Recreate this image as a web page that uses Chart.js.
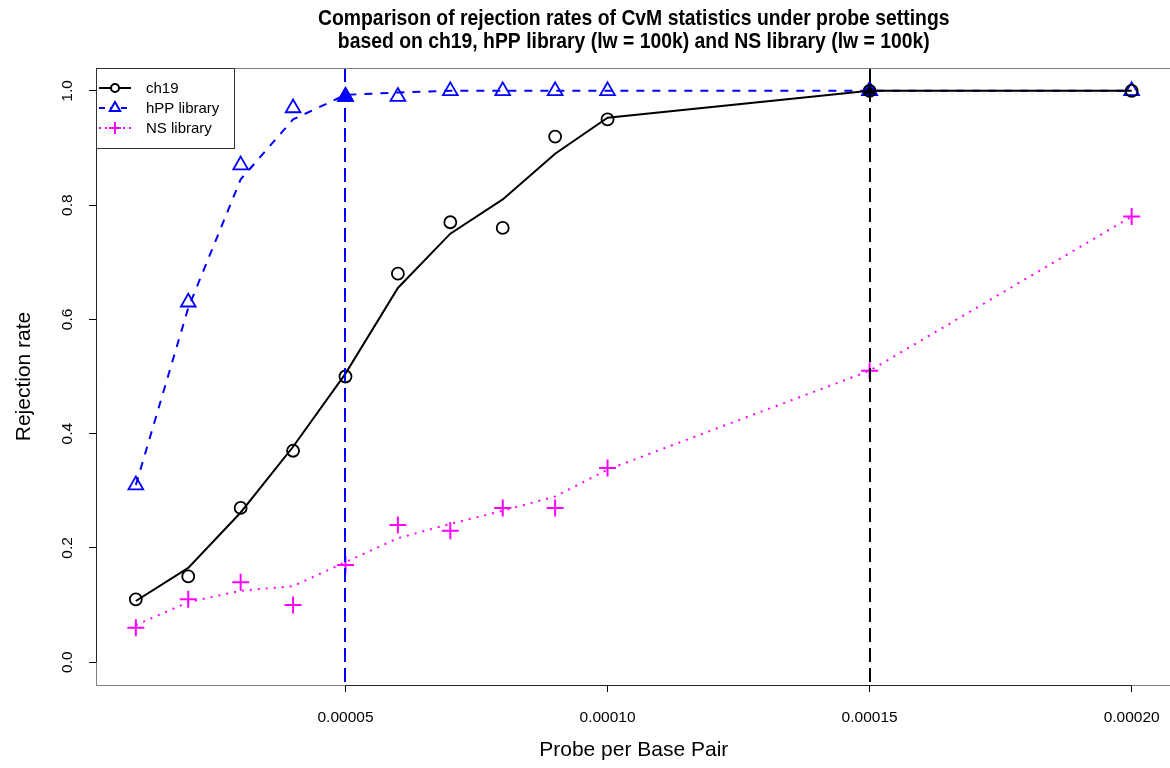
<!DOCTYPE html>
<html>
<head>
<meta charset="utf-8">
<title>CvM rejection rates</title>
<script src="https://cdn.jsdelivr.net/npm/chart.js@4.4.1/dist/chart.umd.min.js"></script>
<style>
  html, body { margin: 0; padding: 0; background: #fff; overflow: hidden; }
  canvas { display: block; }
</style>
</head>
<body>
<!-- wider than the window: the plot box runs just past the right edge -->
<canvas id="rejChart" width="1182" height="768"></canvas>
<script>
// probe density (probes per base pair)
const probeRate = [0.00001, 0.00002, 0.00003, 0.00004, 0.00005, 0.00006,
                   0.00007, 0.00008, 0.00009, 0.0001, 0.00015, 0.0002];

// observed rejection rates
const ch19Rate = [0.11, 0.15, 0.27, 0.37, 0.50, 0.68, 0.77, 0.76, 0.92, 0.95, 1.00, 1.00];
const hppRate  = [0.31, 0.63, 0.87, 0.97, 0.99, 0.99, 1.00, 1.00, 1.00, 1.00, 1.00, 1.00];
const nsRate   = [0.06, 0.11, 0.14, 0.10, 0.17, 0.24, 0.23, 0.27, 0.27, 0.34, 0.51, 0.78];

// smoothed curves
const ch19Fit = [0.107, 0.165, 0.262, 0.377, 0.505, 0.655, 0.75, 0.81, 0.89, 0.953, 1.00, 1.00];
const hppFit  = [0.31, 0.62, 0.845, 0.95, 0.993, 0.997, 1.00, 1.00, 1.00, 1.00, 1.00, 1.00];
const nsFit   = [0.065, 0.105, 0.125, 0.133, 0.175, 0.217, 0.242, 0.265, 0.29, 0.337, 0.51, 0.78];

// marked probe densities (vertical reference lines)
const cutoffs = [0.00005, 0.00015];

const xTicks = [0.00005, 0.0001, 0.00015, 0.0002];
const yTicks = [0, 0.2, 0.4, 0.6, 0.8, 1.0];
const seriesNames = ["ch19", "hPP library", "NS library"];
const mainTitle = ["Comparison of rejection rates of CvM statistics under probe settings",
                   "based on ch19, hPP library (lw = 100k) and NS library (lw = 100k)"];

const BLUE = "#0000ff", MAGENTA = "#ff00ff", BLACK = "#000000";
const cutoffColors = [BLUE, BLACK];

const pts = ys => probeRate.map((x, i) => ({ x: x, y: ys[i] }));

// R-style ranges: data range padded by 4%
const xSpan = probeRate[probeRate.length - 1] - probeRate[0];
const xMin = probeRate[0] - 0.04 * xSpan;
const xMax = probeRate[probeRate.length - 1] + 0.04 * xSpan;

const legendRows = [
    { color: BLACK, dash: [], style: "circle", r: 4 },
    { color: BLUE, dash: [6, 5], style: "triangle", r: 6 },
    { color: MAGENTA, dash: [2, 4], style: "cross", r: 6 }
];

// box, axis lines, reference lines, legend and the condensed bold title
const framePlugin = {
    id: "frame",
    afterDatasetsDraw(chart) {
        const ctx = chart.ctx;
        const a = chart.chartArea;
        const xs = chart.scales.x, ys = chart.scales.y;
        ctx.save();

        cutoffs.forEach((c, i) => {
            const px = Math.round(xs.getPixelForValue(c));
            ctx.strokeStyle = cutoffColors[i];
            ctx.lineWidth = 2;
            ctx.setLineDash([14, 6]);
            ctx.beginPath();
            ctx.moveTo(px, a.top);
            ctx.lineTo(px, a.bottom);
            ctx.stroke();
        });
        ctx.setLineDash([]);

        ctx.strokeStyle = "#808080";
        ctx.lineWidth = 1;
        ctx.strokeRect(a.left + 0.5, a.top + 0.5, a.right - a.left, a.bottom - a.top);

        ctx.strokeStyle = "#222";
        ctx.beginPath();
        ctx.moveTo(a.left + 0.5, ys.getPixelForValue(yTicks[0]));
        ctx.lineTo(a.left + 0.5, ys.getPixelForValue(yTicks[yTicks.length - 1]));
        ctx.moveTo(xs.getPixelForValue(xTicks[0]), a.bottom + 0.5);
        ctx.lineTo(xs.getPixelForValue(xTicks[xTicks.length - 1]), a.bottom + 0.5);
        ctx.stroke();

        // legend
        const lx = a.left, ly = a.top;
        ctx.fillStyle = "#fff";
        ctx.fillRect(lx + 1, ly + 1, 137, 79);
        ctx.strokeStyle = "#333";
        ctx.strokeRect(lx + 0.5, ly + 0.5, 138, 80);
        ctx.font = "15px Arial, 'Liberation Sans', sans-serif";
        ctx.textBaseline = "middle";
        legendRows.forEach((row, i) => {
            const y = ly + 20 * (i + 1);
            ctx.strokeStyle = row.color;
            ctx.lineWidth = 2;
            ctx.setLineDash(row.dash);
            ctx.beginPath();
            ctx.moveTo(lx + 3, y);
            ctx.lineTo(lx + 35, y);
            ctx.stroke();
            ctx.setLineDash([]);
            ctx.fillStyle = "#fff";
            Chart.helpers.drawPoint(ctx, { pointStyle: row.style, radius: row.r, borderWidth: 1.6, rotation: 0 }, lx + 19, y);
            ctx.fillStyle = BLACK;
            ctx.fillText(seriesNames[i], lx + 50, y + 1);
        });

        // title, squeezed horizontally like a narrow bold face
        const cx = (a.left + a.right) / 2;
        ctx.font = "bold 22px Arial, 'Liberation Sans', sans-serif";
        ctx.textAlign = "center";
        mainTitle.forEach((line, i) => {
            ctx.save();
            ctx.translate(cx, a.top - 49 + 23 * i);
            ctx.scale(0.88, 1);
            ctx.fillText(line, 0, 0);
            ctx.restore();
        });
        ctx.restore();
    }
};

Chart.defaults.font.family = "Arial, 'Liberation Sans', sans-serif";
Chart.defaults.color = "#000";

new Chart(document.getElementById("rejChart").getContext("2d"), {
    type: "scatter",
    data: {
        datasets: [
            { label: "ch19 fit", data: pts(ch19Fit), showLine: true, borderColor: BLACK, borderWidth: 2, pointRadius: 0 },
            { label: "hPP fit", data: pts(hppFit), showLine: true, borderColor: BLUE, borderWidth: 2, borderDash: [8, 8], pointRadius: 0 },
            { label: "NS fit", data: pts(nsFit), showLine: true, borderColor: MAGENTA, borderWidth: 2, borderDash: [2, 6], pointRadius: 0 },
            { label: seriesNames[0], data: pts(ch19Rate), pointStyle: "circle", pointRadius: 6,
              pointBorderWidth: 1.8, pointBorderColor: BLACK, pointBackgroundColor: "rgba(0,0,0,0)" },
            { label: seriesNames[1], data: pts(hppRate), pointStyle: "triangle", pointRadius: 8.5,
              pointBorderWidth: 1.8, pointBorderColor: BLUE, pointBackgroundColor: "rgba(0,0,0,0)" },
            { label: seriesNames[2], data: pts(nsRate), pointStyle: "cross", pointRadius: 8.5,
              pointBorderWidth: 2, pointBorderColor: MAGENTA },
            { label: "marked", data: cutoffs.map(c => ({ x: c, y: hppRate[probeRate.indexOf(c)] })),
              pointStyle: "triangle", pointRadius: 8.5, pointBorderWidth: 1.8,
              pointBorderColor: BLUE, pointBackgroundColor: cutoffColors }
        ]
    },
    options: {
        responsive: false,
        animation: false,
        events: [],
        layout: { padding: { top: 68, left: 0, right: 0, bottom: 0 } },
        plugins: {
            legend: { display: false },
            tooltip: { enabled: false },
            title: { display: false }
        },
        scales: {
            x: {
                type: "linear",
                min: xMin,
                max: xMax,
                afterBuildTicks: s => { s.ticks = xTicks.map(v => ({ value: v })); },
                afterFit: s => { s.height = 83; },
                border: { display: false },
                grid: { drawOnChartArea: false, tickLength: 7, color: BLACK },
                ticks: { font: { size: 15.5 }, padding: 16, maxRotation: 0, autoSkip: false, callback: v => v.toFixed(5) },
                title: { display: true, text: "Probe per Base Pair", font: { size: 21 }, padding: { top: 0, bottom: 5 } }
            },
            y: {
                min: -0.04,
                max: 1.04,
                afterBuildTicks: s => { s.ticks = yTicks.map(v => ({ value: v })); },
                afterFit: s => { s.width = 96; },
                border: { display: false },
                grid: { drawOnChartArea: false, tickLength: 7, color: BLACK },
                ticks: { font: { size: 15.5 }, padding: 11, minRotation: 90, maxRotation: 90, crossAlign: "center",
                         autoSkip: false, callback: v => v.toFixed(1) },
                title: { display: true, text: "Rejection rate", font: { size: 21 }, padding: { top: 12, bottom: 0 } }
            }
        }
    },
    plugins: [framePlugin]
});
</script>
</body>
</html>
